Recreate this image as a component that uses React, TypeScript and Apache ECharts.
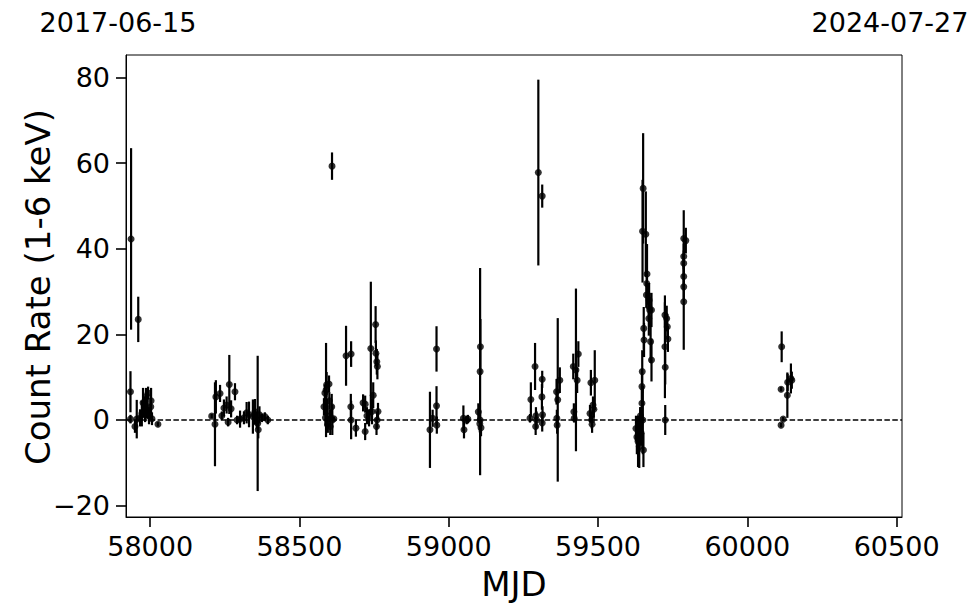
import React, { useEffect, useRef } from "react";
import * as echarts from "echarts";

// [MJD, count rate, 1-sigma error]
const season2017: number[][] = [
  [57936, 42.3, 21.2], [57960, 23.5, 5.3], [57934, 6.6, 4.8], [57934, 0.2, 1.0],
  [57955, 0.2, 4.5], [57949, -1.5, 1.5], [57966, 0.5, 2.0], [57972, 1.5, 3.0],
  [57976, 4.0, 3.5], [57983, 2.5, 3.0], [57986, 5.5, 2.0], [57989, 3.3, 3.0],
  [57993, 6.3, 1.5], [57996, 1.0, 2.0], [58002, 3.1, 3.0], [58003, 4.5, 3.0],
  [58006, 0.3, 1.5], [58026, -1.0, 0.5],
];
const season2018: number[][] = [
  [58206, 0.9, 0.5], [58220, 5.4, 3.9], [58217, -1.0, 9.8], [58234, 6.2, 2.0],
  [58240, 1.0, 1.0], [58247, 2.8, 2.0], [58256, 3.5, 2.0], [58261, -0.5, 1.0],
  [58265, 8.3, 6.9], [58271, 2.6, 2.0], [58284, 6.6, 2.0], [58291, 0.0, 1.0],
  [58301, 0.2, 2.0], [58314, 0.5, 1.5], [58323, 1.7, 2.5], [58331, 1.3, 3.0],
  [58344, 0.8, 4.0], [58351, 1.9, 3.0], [58357, 0.0, 2.0], [58360, -0.8, 15.8],
  [58362, -2.3, 2.0], [58366, 1.2, 2.0], [58374, 0.5, 1.0], [58384, 0.8, 1.0],
  [58394, 0.0, 1.0],
];
const season2019: number[][] = [
  [58582, 3.1, 2.0], [58585, 6.3, 2.0], [58587, 0.5, 2.0], [58589, 7.0, 11.0],
  [58591, 8.2, 3.0], [58592, 2.0, 3.0], [58595, -1.0, 2.0], [58599, 8.4, 2.0],
  [58600, 4.5, 2.0], [58602, 1.0, 1.5], [58603, -1.5, 2.0], [58608, 3.1, 3.0],
  [58610, 0.0, 3.5], [58609, 59.3, 3.2], [58615, 0.3, 0.5], [58656, 15.0, 7.0],
  [58673, 15.4, 3.0], [58672, 3.1, 3.0], [58673, 0.0, 4.5], [58689, -1.9, 2.0],
  [58713, 4.0, 2.0], [58720, 3.7, 2.0], [58720, -2.7, 2.0], [58726, 1.0, 2.0],
  [58733, 0.5, 2.0], [58739, 16.7, 15.6], [58743, 2.0, 3.0], [58747, 5.8, 3.0],
  [58755, 22.3, 4.3], [58756, 15.6, 3.0], [58759, 13.6, 3.0], [58761, 12.5, 3.0],
  [58760, 0.0, 2.0], [58758, -1.5, 2.0], [58763, 2.0, 2.0],
];
const season2020: number[][] = [
  [58937, -2.3, 8.9], [58946, 0.4, 2.0], [58959, 16.6, 5.3], [58959, 3.3, 4.6],
  [58960, -1.2, 2.0], [59049, 0.4, 3.0], [59051, -2.3, 2.0], [59060, 0.0, 1.0],
  [59064, 0.2, 1.0], [59099, 1.9, 2.0], [59105, 11.3, 24.2], [59106, 17.1, 6.5],
  [59105, 0.0, 2.0], [59104, -0.9, 2.0], [59108, -1.8, 2.0],
];
const season2021: number[][] = [
  [59272, 0.4, 1.0], [59275, 4.8, 4.0], [59289, 12.5, 5.5], [59292, 1.0, 2.0],
  [59291, -1.5, 2.0], [59294, 0.0, 2.0], [59300, 57.8, 21.7], [59313, 52.3, 2.7],
  [59313, 9.5, 2.0], [59312, 5.4, 3.0], [59314, 1.2, 2.0], [59313, -0.7, 2.0],
  [59361, 6.6, 3.0], [59365, 4.7, 19.1], [59362, 0.4, 2.0], [59363, -1.2, 2.0],
  [59372, 9.3, 3.0], [59417, 12.5, 3.0], [59426, 11.7, 19.0], [59434, 15.4, 3.0],
  [59430, 9.3, 3.0], [59419, 1.9, 2.0], [59420, 0.4, 1.0], [59476, 8.7, 3.0],
  [59489, 9.3, 7.0], [59483, 3.5, 2.0], [59486, 2.5, 2.0], [59473, 1.5, 2.0],
  [59479, 0.0, 2.0], [59480, -1.0, 2.0],
];
const season2022: number[][] = [
  [59627, -2.0, 3.0], [59630, -4.0, 4.0], [59634, -5.0, 6.0], [59638, -6.2, 5.0],
  [59640, -1.0, 2.0], [59641, 0.0, 3.0], [59642, 1.0, 2.0], [59644, -3.0, 3.0],
  [59647, 3.9, 4.0], [59647, 7.8, 4.0], [59648, 11.3, 5.0], [59651, 54.1, 12.9],
  [59649, 44.1, 12.0], [59650, 0.0, 8.0], [59652, -7.0, 4.0], [59660, 43.4, 10.0],
  [59653, 21.4, 5.0], [59654, 18.7, 4.0], [59664, 34.1, 7.0], [59663, 31.9, 5.0],
  [59662, 29.2, 3.0], [59671, 28.0, 4.0], [59673, 25.7, 4.0], [59670, 26.5, 3.0],
  [59679, 25.7, 4.0], [59679, 14.0, 5.0], [59670, 23.7, 4.0], [59676, 18.3, 5.0],
  [59724, 24.5, 3.0], [59730, 23.7, 3.0], [59732, 21.8, 3.0], [59734, 18.9, 3.0],
  [59724, 17.1, 12.0], [59725, 12.3, 4.0], [59725, 0.0, 3.5], [59787, 42.4, 6.6],
  [59794, 41.9, 3.0], [59787, 38.2, 3.0], [59787, 36.6, 3.0], [59787, 33.5, 3.0],
  [59787, 31.1, 3.0], [59787, 27.6, 11.2],
];
const season2023: number[][] = [
  [60115, 17.1, 3.6], [60113, 7.2, 0.5], [60134, 5.8, 5.3], [60135, 8.8, 2.0],
  [60146, 9.7, 3.5], [60149, 9.3, 2.0], [60120, 0.2, 0.5], [60113, -1.2, 0.5],
];

const xTicks = [58000, 58500, 59000, 59500, 60000, 60500];
const yTicks = [-20, 0, 20, 40, 60, 80];
const xRange = [57919, 60518];
const yRange = [-22.66, 85.26];
const dateLabels = ["2017-06-15", "2024-07-27"];

const FONT = "DejaVu Sans";

export default function App() {
  const ref = useRef<HTMLDivElement>(null);
  useEffect(() => {
    if (!ref.current) return;
    const chart = echarts.init(ref.current, null, { renderer: "svg" });
    const all = [
      ...season2017, ...season2018, ...season2019, ...season2020,
      ...season2021, ...season2022, ...season2023,
    ];
    const fmt = (v: number) => String(v).replace("-", "\u2212");
    chart.setOption({
      animation: false,
      backgroundColor: "#fff",
      grid: {
        left: 126, right: 78, top: 55, bottom: 96,
        show: true, borderColor: "#000", borderWidth: 1, backgroundColor: "transparent",
      },
      xAxis: {
        type: "value", min: xRange[0], max: xRange[1],
        axisLine: { show: true, onZero: false, lineStyle: { color: "#000", width: 1 } },
        splitLine: { show: false },
        axisTick: { show: true, customValues: xTicks, length: 10, lineStyle: { color: "#000", width: 1.6 } },
        axisLabel: {
          customValues: xTicks, margin: 16, color: "#000", fontFamily: FONT, fontSize: 27,
          formatter: (v: number) => fmt(v),
        },
      },
      yAxis: {
        type: "value", min: yRange[0], max: yRange[1],
        axisLine: { show: true, onZero: false, lineStyle: { color: "#000", width: 1 } },
        splitLine: { show: false },
        axisTick: { show: true, customValues: yTicks, length: 10, lineStyle: { color: "#000", width: 1.6 } },
        axisLabel: {
          customValues: yTicks, margin: 16, color: "#000", fontFamily: FONT, fontSize: 27,
          formatter: (v: number) => fmt(v),
        },
      },
      graphic: [
        { type: "text", x: 118, y: 22, style: { text: dateLabels[0], font: `27px '${FONT}'`, fill: "#000", align: "center", verticalAlign: "middle" } },
        { type: "text", x: 890, y: 22, style: { text: dateLabels[1], font: `27px '${FONT}'`, fill: "#000", align: "center", verticalAlign: "middle" } },
        { type: "text", x: 514, y: 584, style: { text: "MJD", font: `34px '${FONT}'`, fill: "#000", align: "center", verticalAlign: "middle" } },
        { type: "text", x: 38, y: 287, rotation: Math.PI / 2, style: { text: "Count Rate (1-6 keV)", font: `34px '${FONT}'`, fill: "#000", align: "center", verticalAlign: "middle" } },
      ],
      series: [
        {
          type: "custom",
          data: all,
          encode: { x: 0, y: 1 },
          renderItem: (params: any, api: any) => {
            const x = api.value(0), y = api.value(1), e = api.value(2);
            const p1 = api.coord([x, y - e]);
            const p2 = api.coord([x, y + e]);
            return {
              type: "line",
              shape: { x1: p1[0], y1: p1[1], x2: p2[0], y2: p2[1] },
              style: { stroke: "#000", lineWidth: 2.2 },
            };
          },
          z: 2,
        },
        {
          type: "scatter",
          data: all.map((d) => [d[0], d[1]]),
          symbol: "circle",
          symbolSize: 7,
          itemStyle: { color: "#000" },
          z: 3,
          markLine: {
            silent: true,
            symbol: "none",
            label: { show: false },
            lineStyle: { color: "#000", type: [5.5, 2.4], width: 1.5 },
            data: [{ yAxis: 0 }],
          },
        },
      ],
    });
    return () => chart.dispose();
  }, []);
  return (
    <div
      ref={ref}
      style={{ position: "absolute", left: 0, top: 0, width: 980, height: 613 }}
    />
  );
}
